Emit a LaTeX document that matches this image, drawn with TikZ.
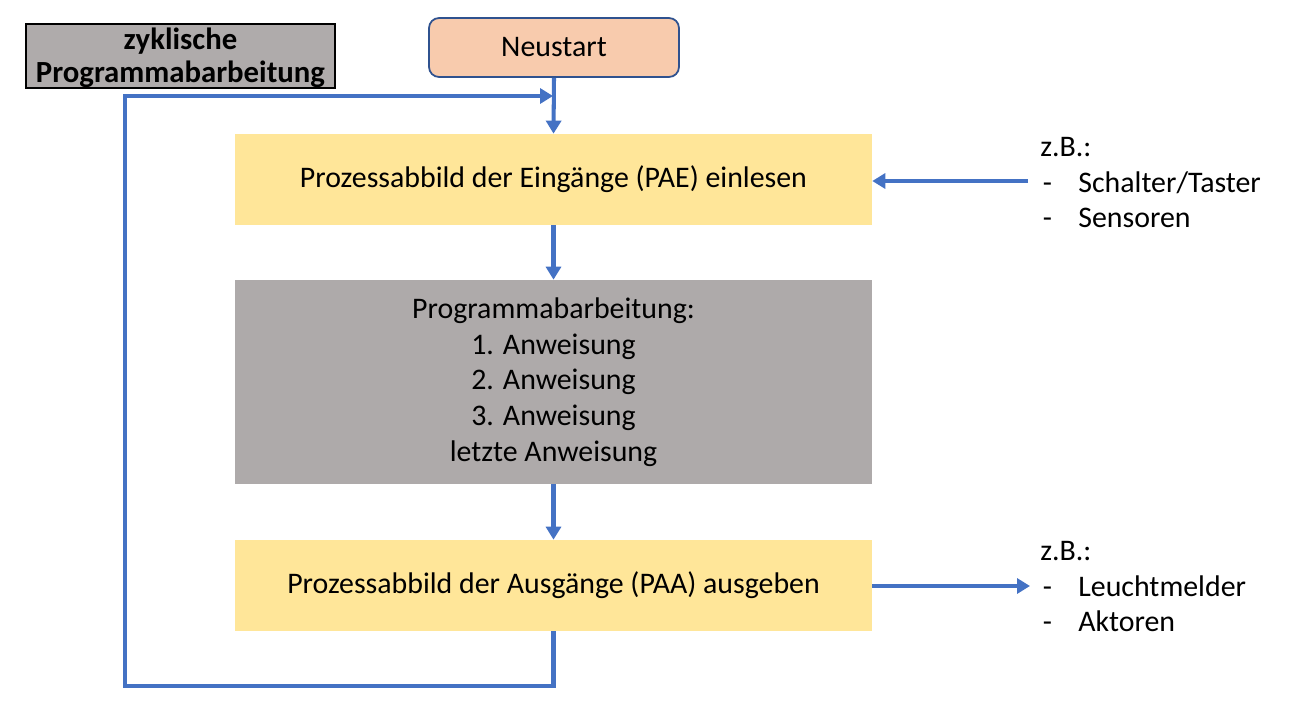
\documentclass[tikz,border=0pt]{standalone}
\usepackage{fontspec}
\setmainfont{Carlito}
\usetikzlibrary{arrows.meta}
\definecolor{lblue}{HTML}{4472C4}
\definecolor{dblue}{HTML}{2F528F}
\definecolor{boxyellow}{HTML}{FFE699}
\definecolor{boxgray}{HTML}{AEAAAA}
\definecolor{labelgray}{HTML}{AFABAB}
\definecolor{boxorange}{HTML}{F8CBAD}
\tikzset{
  txt/.style={font=\fontsize{17}{20}\selectfont},
  stepbox/.style={txt, minimum width=12.74cm, minimum height=1.82cm, inner sep=0pt, align=center},
  arr/.style={draw=lblue, line width=2.3pt, -{Triangle[length=0.26cm, width=0.3cm]}},
  line/.style={draw=lblue, line width=2.3pt},
}
\begin{document}
\begin{tikzpicture}[x=0.02cm, y=-0.02cm]
\useasboundingbox (0,0) rectangle (1297,723);
% label
\node[draw=black, line width=1.2pt, fill=labelgray, minimum width=6.18cm, minimum height=1.28cm, inner sep=0pt,
      align=center, font=\fontsize{17.5}{19}\selectfont\bfseries] (zyk) at (180.5,56) {\rule{0pt}{0.5cm}zyklische\\Programmabarbeitung};
% boxes
\node[txt, draw=dblue, line width=1pt, fill=boxorange, rounded corners=0.2cm, minimum width=5cm, minimum height=1.18cm, inner sep=0pt] (neu) at (554,47.5) {Neustart};
\node[stepbox, fill=boxyellow] (pae) at (553.5,179.5) {Prozessabbild der Eingänge (PAE) einlesen};
\node[stepbox, fill=boxgray, minimum height=4.08cm, font=\fontsize{17}{20.3}\selectfont] (prog) at (553.5,382) {Programmabarbeitung:\\1. Anweisung\\2. Anweisung\\3. Anweisung\\letzte Anweisung};
\node[stepbox, fill=boxyellow] (paa) at (553.5,585.5) {Prozessabbild der Ausgänge (PAA) ausgeben};
% side texts
\node[txt, anchor=north west, inner sep=0pt] (inp) at (1040,132) {\begin{tabular}{@{}l@{}l@{}}\multicolumn{2}{@{}l}{z.B.:}\\\makebox[0.76cm][l]{\hspace{0.05cm}-} & Schalter/Taster\\\makebox[0.76cm][l]{\hspace{0.05cm}-} & Sensoren\end{tabular}};
\node[txt, anchor=north west, inner sep=0pt] (outp) at (1040,536) {\begin{tabular}{@{}l@{}l@{}}\multicolumn{2}{@{}l}{z.B.:}\\\makebox[0.76cm][l]{\hspace{0.05cm}-} & Leuchtmelder\\\makebox[0.76cm][l]{\hspace{0.05cm}-} & Aktoren\end{tabular}};
% coordinates
\coordinate (inA) at (1028,181);
\coordinate (outA) at (1030,586);
\coordinate (lb) at (125,686);
\coordinate (lt) at (125,96);
\coordinate (ent) at (553,96);
% connectors
\draw[arr] (neu.south) -- (pae.north);
\draw[arr] (pae.south) -- (prog.north);
\draw[arr] (prog.south) -- (paa.north);
\draw[arr] (inA) -- (pae.east |- inA);
\draw[arr] (paa.east |- outA) -- (outA);
\draw[arr, line join=miter] (paa.south) |- (lb) -- (lt) -- (ent);
\end{tikzpicture}
\end{document}
